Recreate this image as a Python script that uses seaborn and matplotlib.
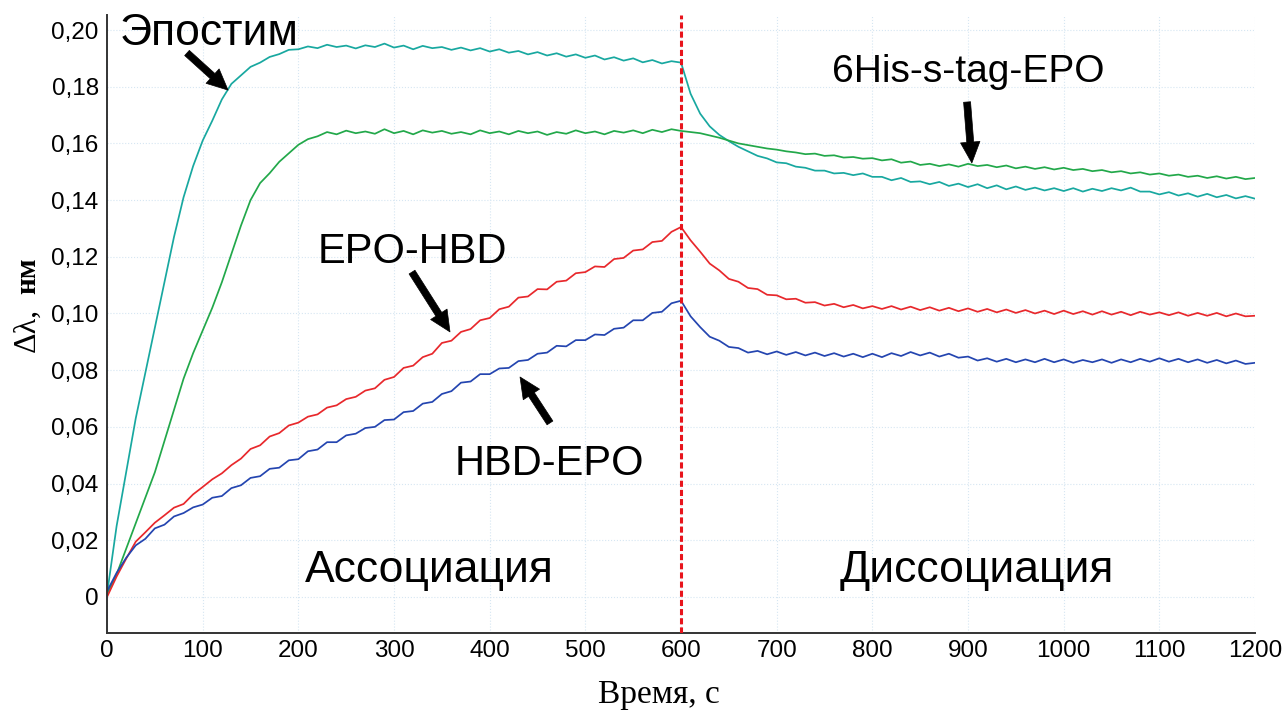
import numpy as np
import pandas as pd
import matplotlib
matplotlib.use("Agg")
import matplotlib.pyplot as plt
import seaborn as sns

# ---------------- data ----------------
TIME = list(range(0, 1201, 10))

EPOSTIM = [
    0.001, 0.025, 0.044, 0.063, 0.079, 0.095, 0.111, 0.127, 0.141, 0.152,
    0.161, 0.168, 0.1755, 0.181, 0.184, 0.187, 0.1885, 0.1905, 0.1915, 0.193, 0.1932,
    0.1942, 0.1936, 0.1948, 0.1940, 0.1945, 0.1935, 0.1946, 0.1940, 0.1952,
    0.1938, 0.1945, 0.1932, 0.1944, 0.1936, 0.1940, 0.1930, 0.1938, 0.1928, 0.1936,
    0.1924, 0.1932, 0.1920, 0.1926, 0.1914, 0.1922, 0.1910, 0.1918, 0.1906, 0.1914,
    0.1902, 0.1910, 0.1896, 0.1904, 0.1892, 0.1900, 0.1886, 0.1894, 0.1882, 0.1890,
    0.1885, 0.1775, 0.1705, 0.1660, 0.1630, 0.1608, 0.1588, 0.1572, 0.1556, 0.1547,
    0.1533, 0.1530, 0.1518, 0.1514, 0.1504, 0.1504, 0.1494, 0.1496, 0.1488, 0.1494,
    0.1482, 0.1482, 0.1470, 0.1478, 0.1464, 0.1466, 0.1456, 0.1464, 0.1450, 0.1458,
    0.1446, 0.1456, 0.1442, 0.1452, 0.1438, 0.1448, 0.1436, 0.1444, 0.1434, 0.1442,
    0.1432, 0.1442, 0.1430, 0.1440, 0.1432, 0.1442, 0.1434, 0.1444, 0.1430, 0.1430,
    0.1420, 0.1428, 0.1416, 0.1424, 0.1412, 0.1422, 0.1410, 0.1418, 0.1406, 0.1414,
    0.1405,
]

HIS_TAG = [
    0.001, 0.008, 0.017, 0.026, 0.035, 0.044, 0.055, 0.066, 0.077, 0.086,
    0.094, 0.102, 0.111, 0.121, 0.131, 0.140, 0.146, 0.1495, 0.1535, 0.1565, 0.1595,
    0.1615, 0.1625, 0.1640, 0.1632, 0.1645, 0.1636, 0.1642, 0.1634, 0.1650,
    0.1636, 0.1644, 0.1632, 0.1646, 0.1638, 0.1644, 0.1634, 0.1640, 0.1632, 0.1646,
    0.1636, 0.1642, 0.1632, 0.1644, 0.1636, 0.1642, 0.1630, 0.1640, 0.1634, 0.1646,
    0.1636, 0.1642, 0.1632, 0.1644, 0.1638, 0.1646, 0.1636, 0.1648, 0.1640, 0.1650,
    0.1644, 0.1640, 0.1636, 0.1628, 0.1620, 0.1610, 0.1600, 0.1594, 0.1588, 0.1582,
    0.1578, 0.1572, 0.1568, 0.1562, 0.1564, 0.1556, 0.1558, 0.1550, 0.1552, 0.1546,
    0.1548, 0.1540, 0.1544, 0.1532, 0.1536, 0.1524, 0.1528, 0.1520, 0.1526, 0.1518,
    0.1528, 0.1520, 0.1524, 0.1516, 0.1522, 0.1512, 0.1518, 0.1510, 0.1516, 0.1508,
    0.1514, 0.1506, 0.1510, 0.1502, 0.1506, 0.1498, 0.1502, 0.1494, 0.1498, 0.1490,
    0.1494, 0.1486, 0.1490, 0.1482, 0.1486, 0.1478, 0.1484, 0.1476, 0.1482, 0.1474,
    0.1478,
]

EPO_HBD = [
    0.000, 0.0072, 0.0135, 0.0195, 0.0228, 0.0262, 0.0288, 0.0315, 0.0328, 0.0362,
    0.0388, 0.0415, 0.0436, 0.0465, 0.0488, 0.0522, 0.0535, 0.0566, 0.0578, 0.0605, 0.0615,
    0.0636, 0.0644, 0.0668, 0.0676, 0.0698, 0.0706, 0.0728, 0.0736, 0.0766,
    0.0776, 0.0808, 0.0816, 0.0846, 0.0858, 0.0896, 0.0904, 0.0935, 0.0945, 0.0976,
    0.0984, 0.1015, 0.1024, 0.1056, 0.1060, 0.1086, 0.1085, 0.1112, 0.1116, 0.1142,
    0.1146, 0.1166, 0.1164, 0.1192, 0.1196, 0.1222, 0.1226, 0.1252, 0.1256, 0.1288,
    0.1305, 0.1258, 0.1218, 0.1176, 0.1152, 0.1122, 0.1112, 0.1090, 0.1086, 0.1066,
    0.1064, 0.1050, 0.1052, 0.1038, 0.1040, 0.1028, 0.1034, 0.1022, 0.1030, 0.1018,
    0.1026, 0.1016, 0.1026, 0.1014, 0.1024, 0.1012, 0.1022, 0.1010, 0.1020, 0.1008,
    0.1018, 0.1006, 0.1016, 0.1004, 0.1014, 0.1002, 0.1012, 0.1000, 0.1010, 0.0998,
    0.1010, 0.0998, 0.1008, 0.0996, 0.1008, 0.0996, 0.1006, 0.0994, 0.1006, 0.0996,
    0.1004, 0.0994, 0.1004, 0.0992, 0.1002, 0.0992, 0.1002, 0.0990, 0.1000, 0.0990,
    0.0992,
]

HBD_EPO = [
    0.002, 0.0085, 0.0138, 0.0182, 0.0205, 0.0242, 0.0255, 0.0284, 0.0296, 0.0316,
    0.0326, 0.0350, 0.0356, 0.0384, 0.0394, 0.0420, 0.0426, 0.0452, 0.0456, 0.0482, 0.0486,
    0.0514, 0.0520, 0.0546, 0.0546, 0.0570, 0.0576, 0.0596, 0.0600, 0.0624,
    0.0626, 0.0652, 0.0656, 0.0682, 0.0688, 0.0716, 0.0726, 0.0756, 0.0760, 0.0786,
    0.0786, 0.0806, 0.0808, 0.0832, 0.0836, 0.0858, 0.0862, 0.0886, 0.0884, 0.0906,
    0.0906, 0.0926, 0.0924, 0.0946, 0.0950, 0.0976, 0.0976, 0.1002, 0.1006, 0.1036,
    0.1045, 0.0990, 0.0952, 0.0918, 0.0904, 0.0882, 0.0878, 0.0862, 0.0868, 0.0856,
    0.0866, 0.0854, 0.0864, 0.0852, 0.0862, 0.0850, 0.0860, 0.0848, 0.0858, 0.0846,
    0.0858, 0.0846, 0.0860, 0.0850, 0.0864, 0.0852, 0.0862, 0.0848, 0.0858, 0.0844,
    0.0848, 0.0834, 0.0842, 0.0830, 0.0840, 0.0828, 0.0838, 0.0828, 0.0840, 0.0828,
    0.0838, 0.0826, 0.0836, 0.0828, 0.0838, 0.0826, 0.0838, 0.0828, 0.0840, 0.0830,
    0.0842, 0.0830, 0.0840, 0.0828, 0.0838, 0.0826, 0.0836, 0.0824, 0.0834, 0.0822,
    0.0826,
]

SERIES_NAMES = ["Эпостим", "6His-s-tag-EPO", "EPO-HBD", "HBD-EPO"]
SERIES_VALUES = [EPOSTIM, HIS_TAG, EPO_HBD, HBD_EPO]
X_TICKS = [0, 100, 200, 300, 400, 500, 600, 700, 800, 900, 1000, 1100, 1200]
Y_TICKS = [0, 0.02, 0.04, 0.06, 0.08, 0.10, 0.12, 0.14, 0.16, 0.18, 0.20]
Y_TICK_LABELS = ["0", "0,02", "0,04", "0,06", "0,08", "0,10", "0,12", "0,14",
                 "0,16", "0,18", "0,20"]
SWITCH_TIME = 600
X_LABEL = "Время, с"
Y_LABEL_SYM = "Δλ,"
Y_LABEL_UNIT = "нм"
PHASE_LABELS = ["Ассоциация", "Диссоциация"]

# ---------------- build long table ----------------
frames = []
for name, vals in zip(SERIES_NAMES, SERIES_VALUES):
    assert len(vals) == len(TIME), (name, len(vals))
    frames.append(pd.DataFrame({"t": TIME, "v": vals, "series": name}))
df = pd.concat(frames, ignore_index=True)

sns.set_theme(style="white")
plt.rcParams["font.family"] = ["Liberation Sans", "DejaVu Sans"]
plt.rcParams["text.color"] = "black"
plt.rcParams["axes.labelcolor"] = "black"
plt.rcParams["xtick.color"] = "black"
plt.rcParams["ytick.color"] = "black"

palette = {
    "Эпостим": "#18a8a0",
    "6His-s-tag-EPO": "#22a84a",
    "EPO-HBD": "#e8282c",
    "HBD-EPO": "#2445b0",
}

fig = plt.figure(figsize=(12.88, 7.10), dpi=100)
ax = fig.add_axes([0.0831, 0.1085, 0.8913, 0.8704])

# faint grid
ax.set_axisbelow(True)
ax.grid(True, which="major", color="#d6e6f2", linewidth=0.8, linestyle=":")

sns.lineplot(data=df, x="t", y="v", hue="series", palette=palette,
             hue_order=SERIES_NAMES, estimator=None, legend=False,
             linewidth=1.25, ax=ax)

ax.axvline(SWITCH_TIME, color="#e8141c", linewidth=2.2,
           linestyle=(0, (2.0, 1.0)), zorder=3)

ax.set_xlim(0, 1200)
ax.set_ylim(-0.0127, 0.2053)
ax.set_xticks(X_TICKS)
ax.set_xticklabels([str(v) for v in X_TICKS])
ax.set_yticks(Y_TICKS)
ax.set_yticklabels(Y_TICK_LABELS)
ax.set_xticks(np.arange(0, 1201, 20), minor=True)
ax.set_yticks(np.arange(-0.01, 0.2051, 0.01), minor=True)
ax.tick_params(axis="both", which="both", direction="in", color="#5a6ab8",
               length=4, width=1.0, labelsize=17.5, labelcolor="black")
ax.tick_params(axis="x", which="major", pad=5)
ax.tick_params(axis="y", which="major", pad=6)
ax.set_xlabel("")
ax.set_ylabel("")

for s in ["top", "right"]:
    ax.spines[s].set_visible(False)
for s in ["left", "bottom"]:
    ax.spines[s].set_color("#333333")
    ax.spines[s].set_linewidth(1.4)

# axis labels
serif = ["Liberation Serif", "DejaVu Serif"]
fig.text(659 / 1288, 1 - 703 / 710, X_LABEL, ha="center", va="baseline",
         fontsize=24, family=serif, color="black")
fig.text(27 / 1288, 1 - 330 / 710, Y_LABEL_SYM, ha="center", va="center",
         rotation=90, fontsize=23, family=serif, color="black")
fig.text(28 / 1288, 1 - 276 / 710, Y_LABEL_UNIT, ha="center", va="center",
         rotation=90, fontsize=21, fontweight="bold", family=serif, color="black")

# series labels and arrows
arrow_kw = dict(arrowstyle="simple,head_length=0.75,head_width=0.7,tail_width=0.25",
                fc="black", ec="black", lw=0.5, shrinkA=0, shrinkB=0,
                mutation_scale=20)

ax.text(13.6, 0.1947, "Эпостим", fontsize=32, ha="left", va="baseline", color="black")
ax.annotate("", xy=(126.5, 0.1788), xytext=(83.6, 0.1919), arrowprops=arrow_kw)

ax.text(900, 0.1817, "6His-s-tag-EPO", fontsize=28, ha="center", va="baseline", color="black")
ax.annotate("", xy=(904, 0.1531), xytext=(899, 0.1746), arrowprops=arrow_kw)

ax.text(220.5, 0.1178, "EPO-HBD", fontsize=30, ha="left", va="baseline", color="black")
ax.annotate("", xy=(358.5, 0.0935), xytext=(318.8, 0.1146), arrowprops=arrow_kw)

ax.text(363.7, 0.0430, "HBD-EPO", fontsize=30, ha="left", va="baseline", color="black")
ax.annotate("", xy=(431.7, 0.0776), xytext=(463, 0.0614), arrowprops=arrow_kw)

ax.text(207, 0.0053, PHASE_LABELS[0], fontsize=32, ha="left", va="baseline", color="black")
ax.text(766, 0.0053, PHASE_LABELS[1], fontsize=32, ha="left", va="baseline", color="black")

fig.savefig("out.png", dpi=100)
